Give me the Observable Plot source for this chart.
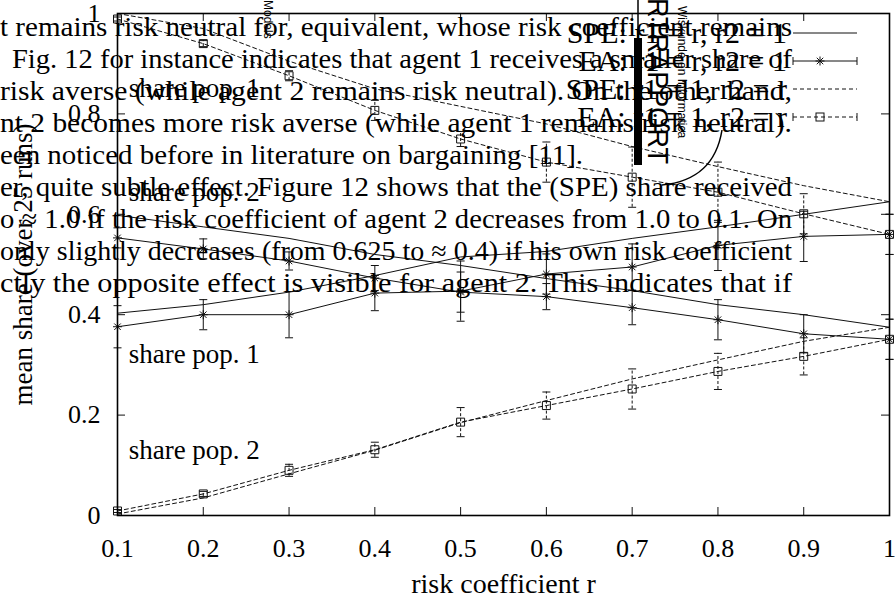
<!DOCTYPE html>
<html><head><meta charset="utf-8">
<script src="https://cdn.jsdelivr.net/npm/d3@7"></script>
<script src="https://cdn.jsdelivr.net/npm/@observablehq/plot@0.6"></script>
<style>body{margin:0;background:#fff} svg{display:block}</style>
</head><body><div id="chart"></div>
<script>
// ---- data ----
const r = [0.1, 0.2, 0.3, 0.4, 0.5, 0.6, 0.7, 0.8, 0.9, 1.0];
// SPE: r1 = r, r2 = 1 (solid, no markers)
const speA_pop1 = [0.403, 0.420, 0.445, 0.478, 0.515, 0.526, 0.552, 0.575, 0.600, 0.625];
const speA_pop2 = [0.598, 0.575, 0.552, 0.520, 0.498, 0.472, 0.448, 0.420, 0.400, 0.375];
// EA: r1 = r, r2 = 1 (solid, asterisks, error bars)
const eaA_pop1 = [0.376, 0.400, 0.400, 0.443, 0.447, 0.481, 0.495, 0.538, 0.556, 0.560];
const eaA_err1 = [0.042, 0.030, 0.046, 0.035, 0.060, 0.040, 0.046, 0.050, 0.050, 0.040];
const eaA_pop2 = [0.553, 0.531, 0.507, 0.473, 0.445, 0.436, 0.414, 0.390, 0.362, 0.351];
const eaA_err2 = [0.020, 0.020, 0.018, 0.025, 0.040, 0.026, 0.034, 0.040, 0.038, 0.040];
// SPE: r1 = 1, r2 = r (dashed, no markers)
const speB_pop1 = [1.000, 0.970, 0.905, 0.850, 0.815, 0.780, 0.735, 0.695, 0.657, 0.625];
const speB_pop2 = [0.003, 0.035, 0.083, 0.130, 0.185, 0.229, 0.272, 0.310, 0.347, 0.375];
// EA: r1 = 1, r2 = r (dashed, squares, error bars)
const eaB_pop1 = [0.989, 0.940, 0.876, 0.807, 0.750, 0.704, 0.674, 0.644, 0.601, 0.560];
const eaB_err1 = [0.004, 0.006, 0.010, 0.020, 0.015, 0.040, 0.060, 0.060, 0.040, 0.040];
const eaB_pop2 = [0.009, 0.043, 0.090, 0.131, 0.186, 0.219, 0.252, 0.287, 0.317, 0.351];
const eaB_err2 = [0.003, 0.005, 0.012, 0.015, 0.029, 0.027, 0.040, 0.036, 0.037, 0.040];

const xTicks = [0.1, 0.2, 0.3, 0.4, 0.5, 0.6, 0.7, 0.8, 0.9, 1.0];
const yTicks = [0, 0.2, 0.4, 0.6, 0.8, 1.0];
const legendLabels = ["SPE: r1 = r, r2 = 1", "EA: r1 = r, r2 = 1", "SPE: r1 = 1, r2 = r", "EA: r1 = 1, r2 = r"];
const annText = ["share pop. 1", "share pop. 2", "share pop. 1", "share pop. 2"];
const annX = [0.113, 0.113, 0.113, 0.113];
const annY = [0.833, 0.627, 0.303, 0.1135];
const xLabel = "risk coefficient r";
const yLabel = "mean share (over 25 runs)";
const paraLines = [
  "t remains risk neutral for, equivalent, whose risk coefficient remains",
  "Fig. 12 for instance indicates that agent 1 receives a smaller share of",
  "risk averse (while agent 2 remains risk neutral). On the other hand,",
  "nt 2 becomes more risk averse (while agent 1 remains risk neutral).",
  "een noticed before in literature on bargaining [11].",
  "er, quite subtle effect. Figure 12 shows that the (SPE) share received",
  "o \u2248 1.0 if the risk coefficient of agent 2 decreases from 1.0 to 0.1. On",
  "only slightly decreases (from 0.625 to \u2248 0.4) if his own risk coefficient",
  "ctly the opposite effect is visible for agent 2. This indicates that if"
];

// ---- build tables ----
function rows(series, vals, errs, pop) {
  return r.map((x, i) => ({series, pop, r: x, v: vals[i], e: errs ? errs[i] : 0}));
}
const solidLines = [...rows("speA", speA_pop1, null, 1), ...rows("speA", speA_pop2, null, 2),
                    ...rows("eaA", eaA_pop1, eaA_err1, 1), ...rows("eaA", eaA_pop2, eaA_err2, 2)];
const dashedLines = [...rows("speB", speB_pop1, null, 1), ...rows("speB", speB_pop2, null, 2),
                     ...rows("eaB", eaB_pop1, eaB_err1, 1), ...rows("eaB", eaB_pop2, eaB_err2, 2)];
const eaAPts = solidLines.filter(d => d.series === "eaA");
const eaBPts = dashedLines.filter(d => d.series === "eaB");
const caps = pts => pts.flatMap(d => [{r: d.r, v: d.v - d.e}, {r: d.r, v: d.v + d.e}]);

const hbar = {draw(ctx, size) { const k = Math.sqrt(size / Math.PI); ctx.moveTo(-k, 0); ctx.lineTo(k, 0); }};
const star = {draw(ctx, size) {
  const k = Math.sqrt(size / Math.PI), d = k * 0.72;
  ctx.moveTo(-k, 0); ctx.lineTo(k, 0); ctx.moveTo(0, -k); ctx.lineTo(0, k);
  ctx.moveTo(-d, -d); ctx.lineTo(d, d); ctx.moveTo(-d, d); ctx.lineTo(d, -d);
}};

const W = 895, H = 598, mL = 117, mR = 6, mT = 13, mB = 83;
const ph = H - mT - mB, pw = W - mL - mR;
const ink = "#111";
const dash = "4,3";
const fmt = d => (d === 0 ? "0" : d === 1 ? "1" : d.toFixed(1));

const svgEl = Plot.plot({
  width: W, height: H,
  marginLeft: mL, marginRight: mR, marginTop: mT, marginBottom: mB,
  x: {domain: [0.1, 1]},
  y: {domain: [0, 1]},
  style: {fontFamily: "'Liberation Serif', serif", fontSize: "26px", background: "white", color: "black"},
  marks: [
    Plot.ruleX(xTicks, {x: d => d, insetTop: ph - 8, stroke: ink}),
    Plot.ruleX(xTicks, {x: d => d, insetBottom: ph - 8, stroke: ink}),
    Plot.ruleY(yTicks, {y: d => d, insetRight: pw - 8, stroke: ink}),
    Plot.ruleY(yTicks, {y: d => d, insetLeft: pw - 8, stroke: ink}),
    Plot.axisX(xTicks, {tickSize: 0, tickPadding: 23, tickFormat: fmt, label: null, fontSize: 26}),
    Plot.axisY(yTicks, {tickSize: 0, tickPadding: 17, tickFormat: fmt, label: null, fontSize: 26}),
    Plot.line(solidLines, {x: "r", y: "v", z: d => d.series + d.pop, stroke: ink, strokeWidth: 1}),
    Plot.line(dashedLines, {x: "r", y: "v", z: d => d.series + d.pop, stroke: ink, strokeWidth: 1, strokeDasharray: dash}),
    Plot.ruleX(eaAPts, {x: "r", y1: d => d.v - d.e, y2: d => d.v + d.e, stroke: ink, strokeWidth: 1}),
    Plot.ruleX(eaBPts, {x: "r", y1: d => d.v - d.e, y2: d => d.v + d.e, stroke: ink, strokeWidth: 1, strokeDasharray: "3,2"}),
    Plot.dot(caps(eaAPts), {x: "r", y: "v", symbol: hbar, r: 4, stroke: ink, fill: "none", strokeWidth: 1}),
    Plot.dot(caps(eaBPts), {x: "r", y: "v", symbol: hbar, r: 4, stroke: ink, fill: "none", strokeWidth: 1}),
    Plot.dot(eaAPts, {x: "r", y: "v", symbol: star, r: 4.5, stroke: ink, fill: "none", strokeWidth: 1}),
    Plot.dot(eaBPts, {x: "r", y: "v", symbol: "square", r: 4.5, stroke: ink, fill: "none", strokeWidth: 1}),
    Plot.frame({stroke: "black", strokeWidth: 1.6}),
    Plot.text(annText, {x: (d, i) => annX[i], y: (d, i) => annY[i], text: d => d, textAnchor: "start", lineAnchor: "bottom", fontSize: 27}),
    Plot.text([xLabel], {frameAnchor: "bottom", dy: 77, textAnchor: "middle", lineAnchor: "bottom", fontSize: 28}),
    Plot.text([yLabel], {frameAnchor: "left", dx: -86, rotate: -90, textAnchor: "middle", lineAnchor: "bottom", fontSize: 27})
  ]
});
document.getElementById("chart").appendChild(svgEl);

// ---- legend (gnuplot key, top right) ----
const svg = d3.select(svgEl);
const lg = svg.append("g").attr("font-family", "'Liberation Serif', serif").attr("font-size", 30).attr("stroke-width", 1);
legendLabels.forEach((lab, i) => {
  const y = 33 + i * 28;
  lg.append("text").attr("x", 787).attr("y", y).attr("dy", "0.34em").attr("text-anchor", "end").attr("fill", "black").text(lab);
  const ln = lg.append("line").attr("x1", 793).attr("x2", 857).attr("y1", y).attr("y2", y).attr("stroke", ink);
  if (i >= 2) ln.attr("stroke-dasharray", dash);
  if (i === 1 || i === 3) {
    [793, 857].forEach(x => lg.append("line").attr("x1", x).attr("x2", x).attr("y1", y - 4).attr("y2", y + 4).attr("stroke", ink));
  }
  if (i === 1) lg.append("path").attr("transform", `translate(820,${y})`).attr("d", d3.symbol(star, Math.PI * 4.5 * 4.5)()).attr("stroke", ink).attr("fill", "none");
  if (i === 3) lg.append("rect").attr("x", 816).attr("y", y - 4).attr("width", 8).attr("height", 8).attr("stroke", ink).attr("fill", "none");
});

// ---- overlaid scanned page fragments ----
const ov = svg.append("g").attr("text-anchor", "start");
ov.append("rect").attr("x", 634).attr("y", 38).attr("width", 8).attr("height", 127).attr("fill", "black");
ov.append("line").attr("x1", 638).attr("x2", 638).attr("y1", 0).attr("y2", 40).attr("stroke", "black").attr("stroke-width", 1.5);
ov.append("text").attr("transform", "translate(648,-2) rotate(90)").attr("text-anchor", "start")
  .attr("font-family", "'Liberation Sans', sans-serif").attr("font-size", 30)
  .attr("textLength", 166).attr("lengthAdjust", "spacingAndGlyphs").text("RTRAPPORT");
ov.append("text").attr("transform", "translate(678,6) rotate(90)").attr("text-anchor", "start")
  .attr("font-family", "'Liberation Sans', sans-serif").attr("font-size", 12).text("Wiskunde en Informatica");
ov.append("text").attr("transform", "translate(264,0) rotate(90)").attr("text-anchor", "start")
  .attr("font-family", "'Liberation Sans', sans-serif").attr("font-size", 12).text("Models");
ov.append("path").attr("d", "M722,130 Q714,180 662,185").attr("fill", "none").attr("stroke", "black").attr("stroke-width", 1.5);

const starts = [0, 12, 0, 0, 0, 0, 0, 0, 0];
const ends = [792, 792, 792, 792, 583, 792, 792, 792, 792];
const pg = svg.append("g").attr("font-family", "'Liberation Serif', serif").attr("font-size", 27)
  .attr("fill", "black").attr("text-anchor", "start");
paraLines.forEach((t, i) => {
  pg.append("text").attr("x", starts[i]).attr("y", 36 + i * 32)
    .attr("textLength", ends[i] - starts[i]).attr("lengthAdjust", "spacingAndGlyphs").text(t);
});
</script>
</body></html>
